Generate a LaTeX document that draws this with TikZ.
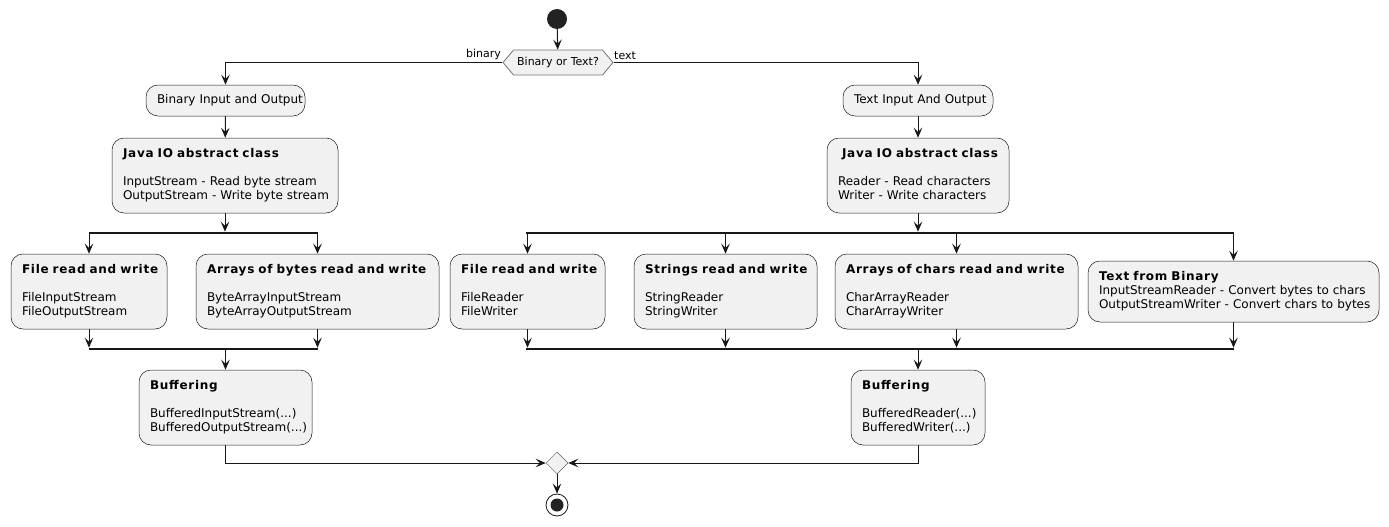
\documentclass[tikz,border=0pt]{standalone}
\usepackage{fontspec}
\setmainfont{DejaVu Sans}
\newfontfamily\titlefam{DejaVu Sans}[LetterSpace=6]
\usetikzlibrary{arrows.meta,shapes.geometric,shapes.symbols}
\definecolor{boxfill}{HTML}{F1F1F1}
\definecolor{ink}{HTML}{181818}
\definecolor{dotc}{HTML}{222222}
\newcommand{\ttl}[1]{{\titlefam\bfseries #1}}
\newcommand{\bx}[1]{\makebox[\linewidth][l]{\begin{tabular}{@{}l@{}}#1\end{tabular}}}
\tikzset{
  act/.style={draw=ink, line width=0.5pt, fill=boxfill, rounded corners=12pt, align=left,
    inner sep=0pt, font=\fontsize{12}{14}\selectfont, text=black,
    minimum width=#1pt, text width=#1pt-22pt},
  bar/.style={fill=ink, draw=none, minimum height=2.2pt, inner sep=0pt},
  arr/.style={draw=ink, line width=1pt, -{Stealth[length=10pt,width=8.5pt,inset=4pt]}},
  lbl/.style={font=\fontsize{11}{13}\selectfont, inner sep=0pt},
}
\begin{document}
\begin{tikzpicture}[x=1pt,y=-1pt]
\useasboundingbox (0,0) rectangle (1389,527);
% start / end
\node[circle, fill=dotc, minimum size=20pt, inner sep=0pt] (start) at (557,19) {};
\node[signal, signal to=west and east, signal pointer angle=100, draw=ink!60, line width=0.8pt, fill=boxfill,
  minimum width=110pt, minimum height=25pt, inner sep=0pt, font=\fontsize{11}{13}\selectfont] (dec) at (558,62.5) {Binary or Text?};
\node[lbl, anchor=south east] (lb) at (501,60) {binary};
\node[lbl, anchor=south west] (lt) at (614,60) {text};

% left branch
\node[act=159, minimum height=31pt] (bio) at (225.5,100.5) {\bx{Binary Input and Output}};
\node[act=226, minimum height=75pt] (jl) at (225,175.5)
  {\bx{\ttl{Java IO abstract class}\\[14pt]InputStream - Read byte stream\\OutputStream - Write byte stream}};
\node[bar, minimum width=229pt] (forkL) at (203.5,233) {};
\node[act=156, minimum height=75pt] (frl) at (89,291.5)
  {\bx{\ttl{File read and write}\\[14pt]FileInputStream\\FileOutputStream}};
\node[act=243, minimum height=75pt] (abl) at (317.5,291.5)
  {\bx{\ttl{Arrays of bytes read and write}\\[14pt]ByteArrayInputStream\\ByteArrayOutputStream}};
\node[bar, minimum width=229pt] (joinL) at (203.5,349) {};
\node[act=173, minimum height=75pt] (bufl) at (225.5,407.5)
  {\bx{\ttl{Buffering}\\[14pt]BufferedInputStream(...)\\BufferedOutputStream(...)}};

% right branch
\node[act=150, minimum height=31pt] (tio) at (918,100.5) {\bx{Text Input And Output}};
\node[act=182, minimum height=75pt] (jr) at (918,175.5)
  {\bx{\hspace{4pt}\ttl{Java IO abstract class}\\[14pt]Reader - Read characters\\Writer - Write characters}};
\node[bar, minimum width=708pt] (forkR) at (880,233) {};
\node[act=155, minimum height=75pt] (frr) at (527.5,291.5)
  {\bx{\ttl{File read and write}\\[14pt]FileReader\\FileWriter}};
\node[act=183, minimum height=75pt] (srw) at (725.5,291.5)
  {\bx{\ttl{Strings read and write}\\[14pt]StringReader\\StringWriter}};
\node[act=243, minimum height=75pt] (acr) at (956.5,291.5)
  {\bx{\ttl{Arrays of chars read and write}\\[14pt]CharArrayReader\\CharArrayWriter}};
\node[act=291, minimum height=61pt] (tfb) at (1233.5,291.5)
  {\bx{\ttl{Text from Binary}\\InputStreamReader - Convert bytes to chars\\OutputStreamWriter - Convert chars to bytes}};
\node[bar, minimum width=708pt] (joinR) at (880,349) {};
\node[act=134, minimum height=75pt] (bufr) at (918,407.5)
  {\bx{\ttl{Buffering}\\[14pt]BufferedReader(...)\\BufferedWriter(...)}};

% merge / end
\node[diamond, draw=ink!70, line width=0.5pt, fill=boxfill, minimum size=22pt, inner sep=0pt] (merge) at (557,463) {};
\node[circle, draw=ink, line width=0.8pt, fill=white, minimum size=22pt, inner sep=0pt] (stop) at (557,505) {};
\node[circle, fill=dotc, minimum size=13pt, inner sep=0pt] (stopin) at (557,505) {};

% connectors
\draw[arr] (start) -- (dec);
\draw[arr] (dec.west) -| (bio.north);
\draw[arr] (dec.east) -| (tio.north);
\draw[arr] (bio) -- (jl);
\draw[arr] (tio) -- (jr);
\draw[arr] (jl.south) -- (jl.south |- forkL.north);
\draw[arr] (forkL.south -| frl.north) -- (frl.north);
\draw[arr] (forkL.south -| abl.north) -- (abl.north);
\draw[arr] (frl.south) -- (frl.south |- joinL.north);
\draw[arr] (abl.south) -- (abl.south |- joinL.north);
\draw[arr] (joinL.south -| bufl.north) -- (bufl.north);
\draw[arr] (jr.south) -- (jr.south |- forkR.north);
\draw[arr] (forkR.south -| frr.north) -- (frr.north);
\draw[arr] (forkR.south -| srw.north) -- (srw.north);
\draw[arr] (forkR.south -| acr.north) -- (acr.north);
\draw[arr] (forkR.south -| tfb.north) -- (tfb.north);
\draw[arr] (frr.south) -- (frr.south |- joinR.north);
\draw[arr] (srw.south) -- (srw.south |- joinR.north);
\draw[arr] (acr.south) -- (acr.south |- joinR.north);
\draw[arr] (tfb.south) -- (tfb.south |- joinR.north);
\draw[arr] (joinR.south -| bufr.north) -- (bufr.north);
\draw[arr] (bufl.south) |- (merge.west);
\draw[arr] (bufr.south) |- (merge.east);
\draw[arr] (merge) -- (stop);
\end{tikzpicture}
\end{document}
